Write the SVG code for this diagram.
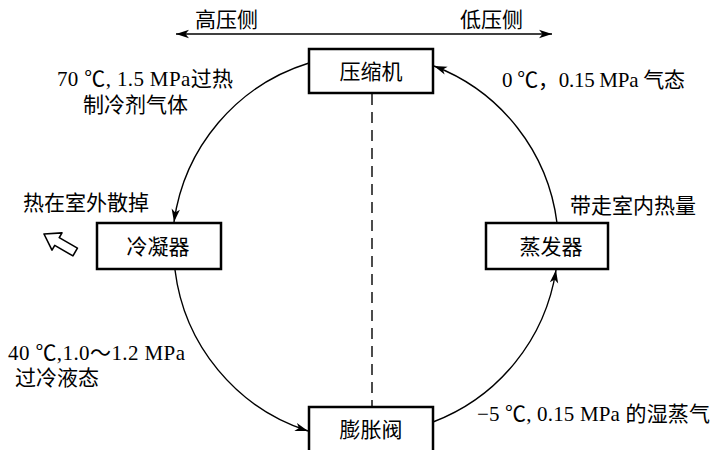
<svg xmlns="http://www.w3.org/2000/svg" width="713" height="450" viewBox="0 0 713 450">
<style>
  text { font-family: "Liberation Serif", "Noto Sans CJK SC", serif; font-size: 21px; fill: #000; }
  .c { text-anchor: middle; }
  .box { fill: #fff; stroke: #000; stroke-width: 2.5; }
  .flow { fill: none; stroke: #000; stroke-width: 1.4; marker-end: url(#ah); }
  .side { fill: none; stroke: #000; stroke-width: 1.6; marker-end: url(#ah); marker-start: url(#ah); }
  .dash { stroke: #000; stroke-width: 1.4; stroke-dasharray: 11 7; }
</style>
<defs>
  <marker id="ah" markerUnits="userSpaceOnUse" markerWidth="16" markerHeight="12" viewBox="-1 -6 15 12" refX="13" refY="0" orient="auto-start-reverse">
    <path d="M0,-4.2 L13,0 L0,4.2 L3.5,0 Z" fill="#000"/>
  </marker>
</defs>

<g id="pressure-sides">
  <line class="side" x1="176" y1="34" x2="552" y2="34"/>
  <text x="195" y="27">高压侧</text>
  <text x="460" y="27">低压侧</text>
</g>

<g id="connectors">
  <line class="dash" x1="372" y1="94" x2="372" y2="407"/>
  <path class="flow" d="M309,63 A194,194 0 0,0 174,222"/>
  <path class="flow" d="M175,270 A194,194 0 0,0 308,431"/>
  <path class="flow" d="M433,422 A194,194 0 0,0 556,270"/>
  <path class="flow" d="M557,223 A194,194 0 0,0 434,66"/>
</g>

<g id="compressor">
  <rect class="box" x="309" y="49" width="124" height="44"/>
  <text class="c" x="371" y="79">压缩机</text>
</g>

<g id="condenser">
  <rect class="box" x="97" y="223" width="124" height="46"/>
  <text class="c" x="158" y="254">冷凝器</text>
</g>

<g id="evaporator">
  <rect class="box" x="486" y="223" width="122" height="46"/>
  <text class="c" x="551" y="254">蒸发器</text>
</g>

<g id="expansion-valve">
  <rect class="box" x="309" y="407" width="124" height="48"/>
  <text class="c" x="371" y="437">膨胀阀</text>
</g>

<g id="heat-out">
  <text x="23" y="210">热在室外散掉</text>
  <polygon transform="translate(44,234) rotate(30)" points="0,0 15,-10 15,-4.5 36,-4.5 36,4.5 15,4.5 15,10" fill="#fff" stroke="#000" stroke-width="1.6" stroke-linejoin="round"/>
</g>

<g id="labels">
  <text x="57" y="86" textLength="176" lengthAdjust="spacing">70 ℃, 1.5 MPa过热</text>
  <text x="83" y="112">制冷剂气体</text>
  <text x="502" y="87" textLength="183" lengthAdjust="spacing">0 ℃，0.15 MPa 气态</text>
  <text x="570" y="213">带走室内热量</text>
  <text x="8" y="360" textLength="177" lengthAdjust="spacing">40 ℃,1.0～1.2 MPa</text>
  <text x="15" y="385">过冷液态</text>
  <text x="477" y="421" textLength="233" lengthAdjust="spacing">−5 ℃, 0.15 MPa 的湿蒸气</text>
</g>
</svg>
